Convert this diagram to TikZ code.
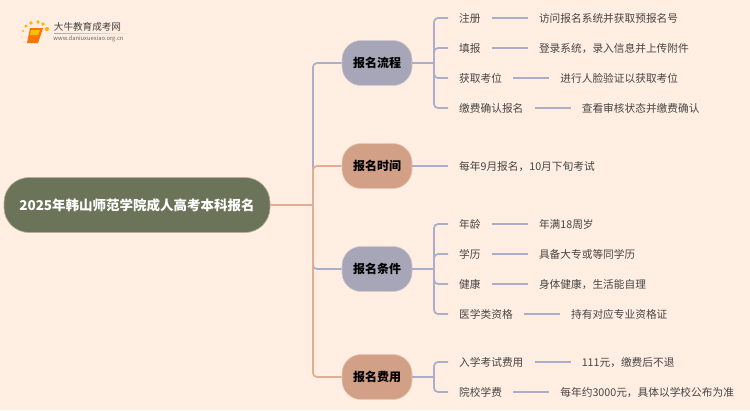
\documentclass[tikz,border=0pt]{standalone}
\usepackage{fontspec}
\setmainfont{Noto Sans CJK SC}
\usetikzlibrary{positioning}
\definecolor{pagebg}{HTML}{FFEEE1}
\definecolor{rootfill}{HTML}{6B7358}
\definecolor{greyfill}{HTML}{A6A6B8}
\definecolor{saltfill}{HTML}{D2A086}
\definecolor{greyline}{HTML}{ABAEC9}
\definecolor{saltline}{HTML}{DFAE94}
\definecolor{leaftext}{HTML}{454545}
\tikzset{
    rootbox/.style={draw=rootfill!50!pagebg, line width=0.6pt, fill=rootfill, rounded corners=25pt, minimum width=266pt, minimum height=55pt, text=white, font=\fontsize{13.5}{16}\selectfont\bfseries, inner sep=0pt, text height=10pt, text depth=0pt},
    greypill/.style={draw=greyfill!50!pagebg, line width=0.6pt, fill=greyfill, rounded corners=19pt, minimum width=70pt, minimum height=45pt, text=black, font=\fontsize{12}{14}\selectfont\bfseries, inner sep=0pt, text height=9pt, text depth=0pt},
    saltpill/.style={greypill, draw=saltfill!50!pagebg, fill=saltfill},
    leaf/.style={anchor=west, text=leaftext, font=\fontsize{10.7}{12}\selectfont, inner xsep=11pt, inner ysep=0pt, text height=8pt, text depth=0pt},
    greylink/.style={draw=greyline, line width=1.7pt, rounded corners=4pt},
    saltlink/.style={draw=saltline, line width=1.7pt, rounded corners=4pt},
}
\begin{document}
\begin{tikzpicture}[x=1pt,y=-1pt]
        \fill[pagebg] (0,0) rectangle (750,410);
        \useasboundingbox (0,0) rectangle (750,410);

        \fill[orange!60!yellow] (23,31) circle (1.2) (26,26) circle (1.6) (31,23) circle (1.8) (38,22) circle (1.8) (43,24) circle (1.9) (47,29) circle (2.1);
        \fill[orange!40!yellow!50!pagebg] (22,37) circle (1) (24,42) circle (0.9);
        \fill[orange!90!red] (30,28) -- (43,28) -- (38,43) -- (27,43) -- cycle;
        \fill[orange!50!yellow] (31,30) -- (40,30) -- (38,35) -- (30,35) -- cycle;
        \node[text=black!75, font=\fontsize{9.6}{11}\selectfont, inner sep=0pt] (logotitle) at (87.5,27) {大牛教育成考网};
        \node[text=black!60, font=\fontsize{5.8}{7}\selectfont, inner sep=0pt] (logourl) at (88.5,39) {www.daniuxuexiao.org.cn};
        \shade[left color=black!35, right color=pagebg] (54,33.2) rectangle (132,33.8);

        \node[rootbox] (root) at (137,205) {2025年韩山师范学院成人高考本科报名};
        \coordinate (trunk) at (313,205);

        \node[greypill] (liucheng) at (377,63) {报名流程};
        \node[saltpill] (shijian) at (377,166) {报名时间};
        \node[greypill] (tiaojian) at (377,269) {报名条件};
        \node[saltpill] (feiyong) at (377,377) {报名费用};

        \draw[greylink] (trunk) |- (liucheng.west);
        \draw[greylink] (trunk) |- (tiaojian.west);
        \draw[saltlink] (trunk) |- (shijian.west);
        \draw[saltlink] (trunk) |- (feiyong.west);
        \draw[saltlink] (root.east) -- (trunk);

        \coordinate (forkA) at (434,63);
        \node[leaf] (zhuce) at (448,18) {注册};
        \node[leaf] (tianbao) at (448,48) {填报};
        \node[leaf] (kaowei) at (448,78) {获取考位};
        \node[leaf] (jiaofei) at (448,108) {缴费确认报名};
        \node[leaf, right=36pt of zhuce] (zhuceval) {访问报名系统并获取预报名号};
        \node[leaf, right=36pt of tianbao] (tianbaoval) {登录系统，录入信息并上传附件};
        \node[leaf, right=36pt of kaowei] (kaoweival) {进行人脸验证以获取考位};
        \node[leaf, right=36pt of jiaofei] (jiaofeival) {查看审核状态并缴费确认};
        \draw[greylink] (liucheng.east) -- (forkA);
        \draw[greylink] (forkA) |- (zhuce.west);
        \draw[greylink] (forkA) |- (tianbao.west);
        \draw[greylink] (forkA) |- (kaowei.west);
        \draw[greylink] (forkA) |- (jiaofei.west);
        \draw[greylink] (zhuce) -- (zhuceval);
        \draw[greylink] (tianbao) -- (tianbaoval);
        \draw[greylink] (kaowei) -- (kaoweival);
        \draw[greylink] (jiaofei) -- (jiaofeival);

        \node[leaf] (shijianval) at (448,166) {每年9月报名，10月下旬考试};
        \draw[greylink] (shijian.east) -- (shijianval);

        \coordinate (forkB) at (434,269);
        \node[leaf] (nianling) at (448,224) {年龄};
        \node[leaf] (xueli) at (448,254) {学历};
        \node[leaf] (jiankang) at (448,284) {健康};
        \node[leaf] (zige) at (448,314) {医学类资格};
        \node[leaf, right=36pt of nianling] (nianlingval) {年满18周岁};
        \node[leaf, right=36pt of xueli] (xuelival) {具备大专或等同学历};
        \node[leaf, right=36pt of jiankang] (jiankangval) {身体健康，生活能自理};
        \node[leaf, right=36pt of zige] (zigeval) {持有对应专业资格证};
        \draw[greylink] (tiaojian.east) -- (forkB);
        \draw[greylink] (forkB) |- (nianling.west);
        \draw[greylink] (forkB) |- (xueli.west);
        \draw[greylink] (forkB) |- (jiankang.west);
        \draw[greylink] (forkB) |- (zige.west);
        \draw[greylink] (nianling) -- (nianlingval);
        \draw[greylink] (xueli) -- (xuelival);
        \draw[greylink] (jiankang) -- (jiankangval);
        \draw[greylink] (zige) -- (zigeval);

        \coordinate (forkC) at (434,377);
        \node[leaf] (kaoshifei) at (448,362) {入学考试费用};
        \node[leaf] (xuefei) at (448,392) {院校学费};
        \node[leaf, right=36pt of kaoshifei] (kaoshifeival) {111元，缴费后不退};
        \node[leaf, right=36pt of xuefei] (xuefeival) {每年约3000元，具体以学校公布为准};
        \draw[greylink] (feiyong.east) -- (forkC);
        \draw[greylink] (forkC) |- (kaoshifei.west);
        \draw[greylink] (forkC) |- (xuefei.west);
        \draw[greylink] (kaoshifei) -- (kaoshifeival);
        \draw[greylink] (xuefei) -- (xuefeival);
    \end{tikzpicture}
\end{document}
